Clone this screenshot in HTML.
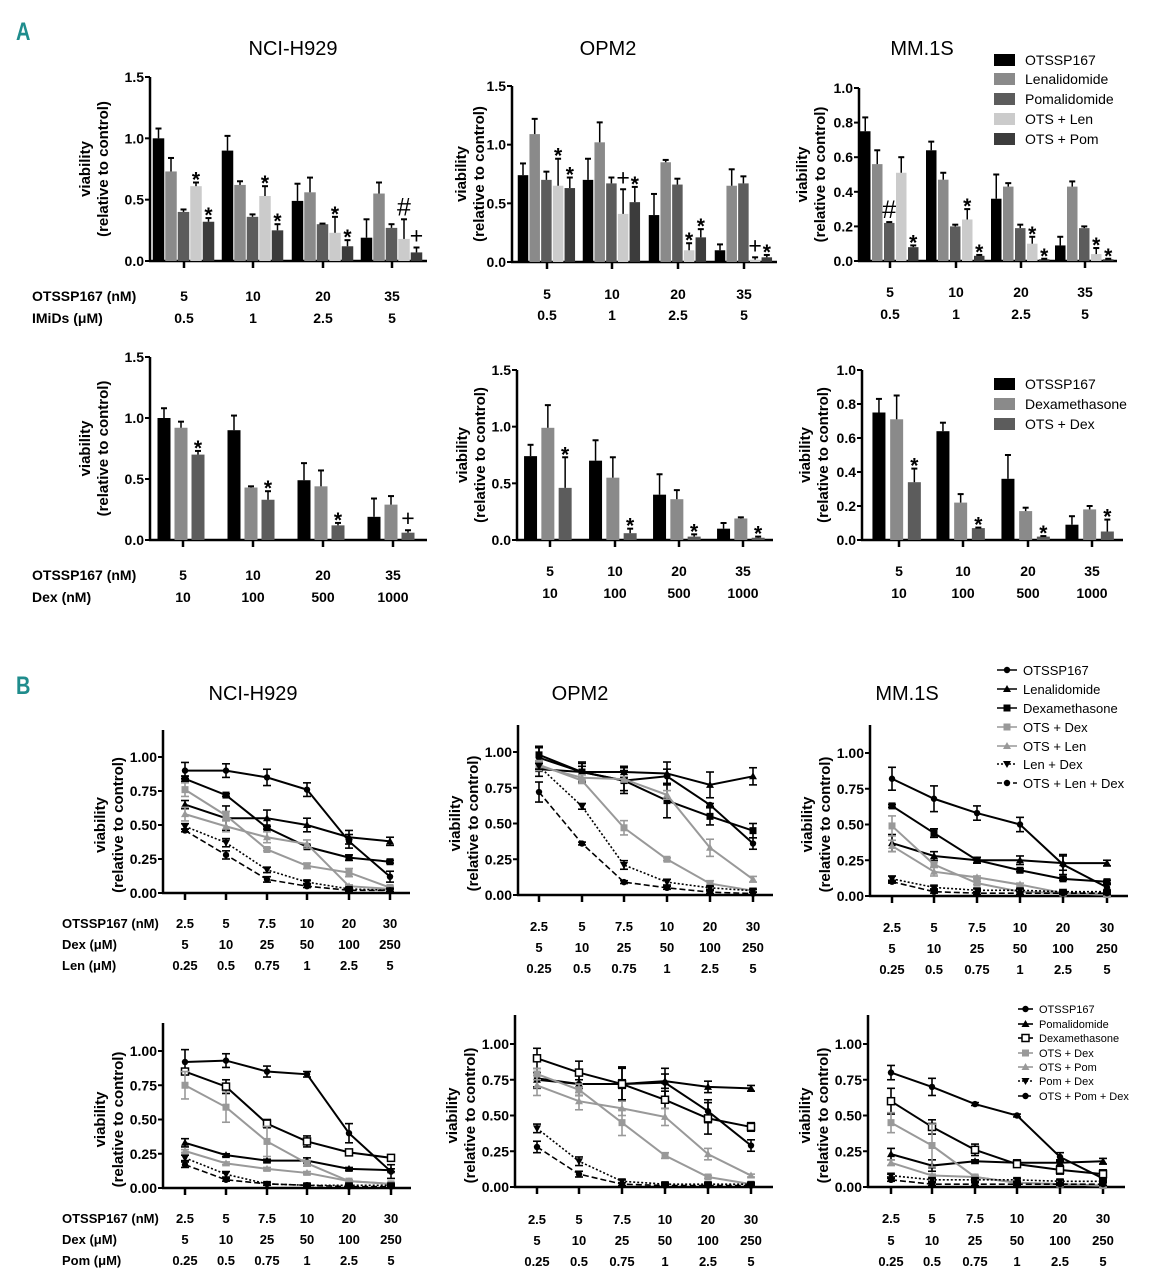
<!DOCTYPE html>
<html><head><meta charset="utf-8"><style>
html,body{margin:0;padding:0;background:#fff;}
svg{display:block;font-family:"Liberation Sans",Arial,sans-serif;}
</style></head><body>
<svg id="fig" width="1149" height="1280" viewBox="0 0 1149 1280" xmlns="http://www.w3.org/2000/svg">
<text x="16" y="40" fill="#1f8c8c" font-size="25" font-weight="bold" style="transform-box:fill-box;transform-origin:left;transform:scaleX(0.8)">A</text>
<text x="16" y="694" fill="#1f8c8c" font-size="25" font-weight="bold" style="transform-box:fill-box;transform-origin:left;transform:scaleX(0.8)">B</text>
<text x="293" y="55" font-size="20" text-anchor="middle">NCI-H929</text>
<text x="608" y="55" font-size="20" text-anchor="middle">OPM2</text>
<text x="922" y="55" font-size="20" text-anchor="middle">MM.1S</text>
<text x="253" y="700" font-size="20" text-anchor="middle">NCI-H929</text>
<text x="580" y="700" font-size="20" text-anchor="middle">OPM2</text>
<text x="907" y="700" font-size="20" text-anchor="middle">MM.1S</text>
</svg>
<script>
// ---------- Panel A data ----------
const aGroups = ["5","10","20","35"];
const aImids = ["0.5","1","2.5","5"];
const aDex = ["10","100","500","1000"];
const a1_ots=[1.00,0.90,0.49,0.19], a1_ots_e=[0.08,0.12,0.14,0.15];
const a1_len=[0.73,0.62,0.56,0.55], a1_len_e=[0.11,0.03,0.12,0.09];
const a1_pom=[0.40,0.36,0.30,0.27], a1_pom_e=[0.02,0.02,0.005,0.03];
const a1_ol=[0.61,0.53,0.23,0.18], a1_ol_e=[0.03,0.08,0.13,0.16];
const a1_op=[0.32,0.25,0.12,0.07], a1_op_e=[0.03,0.05,0.05,0.04];
const a1_ann_ol=["*","*","*","#"], a1_ann_op=["*","*","*","+"];
const a2_ots=[0.74,0.70,0.40,0.10], a2_ots_e=[0.10,0.18,0.18,0.05];
const a2_len=[1.09,1.02,0.85,0.65], a2_len_e=[0.13,0.17,0.02,0.14];
const a2_pom=[0.70,0.67,0.66,0.67], a2_pom_e=[0.07,0.05,0.05,0.06];
const a2_ol=[0.65,0.41,0.10,0.02], a2_ol_e=[0.23,0.21,0.06,0.02];
const a2_op=[0.63,0.51,0.21,0.04], a2_op_e=[0.09,0.13,0.07,0.02];
const a2_ann_ol=["*","+","*","+"], a2_ann_op=["*","*","*","*"];
const a3_ots=[0.75,0.64,0.36,0.09], a3_ots_e=[0.08,0.05,0.14,0.05];
const a3_len=[0.56,0.47,0.43,0.43], a3_len_e=[0.08,0.04,0.02,0.03];
const a3_pom=[0.22,0.20,0.19,0.19], a3_pom_e=[0.005,0.01,0.02,0.01];
const a3_ol=[0.51,0.24,0.10,0.04], a3_ol_e=[0.09,0.06,0.04,0.035];
const a3_op=[0.08,0.03,0.01,0.01], a3_op_e=[0.01,0.005,0.003,0.003];
const a3_ann_pom=["#","","",""], a3_ann_ol=["","*","*","*"], a3_ann_op=["*","*","*","*"];
const a4_ots=[1.00,0.90,0.49,0.19], a4_ots_e=[0.08,0.12,0.14,0.15];
const a4_dex=[0.92,0.43,0.44,0.29], a4_dex_e=[0.05,0.01,0.13,0.07];
const a4_od=[0.70,0.33,0.12,0.06], a4_od_e=[0.03,0.07,0.02,0.02];
const a4_ann=["*","*","*","+"];
const a5_ots=[0.74,0.70,0.40,0.10], a5_ots_e=[0.10,0.18,0.18,0.05];
const a5_dex=[0.99,0.55,0.36,0.19], a5_dex_e=[0.20,0.18,0.08,0.01];
const a5_od=[0.46,0.06,0.03,0.02], a5_od_e=[0.27,0.04,0.02,0.01];
const a5_ann=["*","*","*","*"];
const a6_ots=[0.75,0.64,0.36,0.09], a6_ots_e=[0.08,0.05,0.14,0.05];
const a6_dex=[0.71,0.22,0.17,0.18], a6_dex_e=[0.14,0.05,0.02,0.02];
const a6_od=[0.34,0.07,0.02,0.05], a6_od_e=[0.08,0.003,0.003,0.07];
const a6_ann=["*","*","*","*"];
// ---------- Panel B data ----------
const bOts=["2.5","5","7.5","10","20","30"];
const bDex=["5","10","25","50","100","250"];
const bImid=["0.25","0.5","0.75","1","2.5","5"];
const b1_ots=[0.90,0.90,0.85,0.76,0.38,0.12], b1_ots_e=[0.06,0.05,0.06,0.05,0.05,0.04];
const b1_len=[0.65,0.55,0.55,0.50,0.41,0.38], b1_len_e=[0.03,0.09,0.06,0.05,0.05,0.03];
const b1_dex=[0.84,0.72,0.48,0.34,0.26,0.23], b1_dex_e=[0.02,0.01,0.01,0.01,0.02,0.01];
const b1_od=[0.76,0.57,0.32,0.20,0.15,0.04], b1_od_e=[0.05,0.03,0.01,0.02,0.03,0.01];
const b1_ol=[0.58,0.49,0.41,0.36,0.05,0.03], b1_ol_e=[0.05,0.04,0.04,0.03,0.01,0.01];
const b1_ld=[0.49,0.37,0.17,0.08,0.03,0.02], b1_ld_e=[0.02,0.03,0.02,0.01,0.01,0.01];
const b1_old=[0.46,0.28,0.10,0.05,0.02,0.02], b1_old_e=[0.01,0.03,0.02,0.01,0.01,0.01];
const b2_ots=[0.96,0.86,0.80,0.83,0.63,0.36], b2_ots_e=[0.08,0.06,0.07,0.05,0.01,0.04];
const b2_len=[0.88,0.86,0.86,0.85,0.77,0.83], b2_len_e=[0.05,0.04,0.04,0.08,0.09,0.06];
const b2_dex=[0.98,0.86,0.80,0.66,0.55,0.45], b2_dex_e=[0.05,0.07,0.09,0.12,0.06,0.05];
const b2_od=[0.91,0.80,0.47,0.25,0.08,0.03], b2_od_e=[0.03,0.02,0.05,0.01,0.02,0.01];
const b2_ol=[0.90,0.82,0.81,0.70,0.33,0.11], b2_ol_e=[0.03,0.02,0.02,0.03,0.06,0.02];
const b2_ld=[0.90,0.62,0.21,0.09,0.05,0.03], b2_ld_e=[0.02,0.02,0.03,0.02,0.01,0.01];
const b2_old=[0.72,0.36,0.09,0.05,0.02,0.01], b2_old_e=[0.07,0.01,0.01,0.01,0.01,0.01];
const b3_ots=[0.82,0.68,0.58,0.50,0.22,0.06], b3_ots_e=[0.08,0.09,0.05,0.05,0.07,0.02];
const b3_len=[0.37,0.28,0.25,0.25,0.23,0.23], b3_len_e=[0.06,0.03,0.02,0.03,0.05,0.02];
const b3_dex=[0.63,0.44,0.25,0.18,0.12,0.10], b3_dex_e=[0.01,0.03,0.02,0.01,0.01,0.01];
const b3_od=[0.49,0.22,0.09,0.03,0.02,0.01], b3_od_e=[0.07,0.02,0.01,0.01,0.01,0.01];
const b3_ol=[0.35,0.17,0.13,0.08,0.02,0.01], b3_ol_e=[0.04,0.03,0.01,0.01,0.01,0.01];
const b3_ld=[0.12,0.06,0.04,0.04,0.03,0.03], b3_ld_e=[0.02,0.01,0.01,0.01,0.01,0.01];
const b3_old=[0.10,0.03,0.02,0.02,0.02,0.02], b3_old_e=[0.01,0.01,0.01,0.01,0.01,0.01];
const b4_ots=[0.92,0.93,0.85,0.83,0.40,0.12], b4_ots_e=[0.09,0.05,0.04,0.02,0.07,0.05];
const b4_pom=[0.33,0.24,0.20,0.20,0.14,0.13], b4_pom_e=[0.03,0.01,0.01,0.02,0.01,0.01];
const b4_dex=[0.85,0.74,0.47,0.34,0.26,0.22], b4_dex_e=[0.02,0.05,0.03,0.04,0.01,0.01];
const b4_od=[0.75,0.59,0.34,0.18,0.05,0.03], b4_od_e=[0.10,0.11,0.11,0.02,0.01,0.01];
const b4_op=[0.27,0.18,0.14,0.11,0.05,0.03], b4_op_e=[0.01,0.01,0.01,0.01,0.01,0.01];
const b4_pd=[0.22,0.10,0.03,0.02,0.02,0.02], b4_pd_e=[0.02,0.02,0.01,0.01,0.01,0.01];
const b4_opd=[0.17,0.06,0.03,0.02,0.01,0.01], b4_opd_e=[0.02,0.01,0.01,0.01,0.01,0.01];
const b5_ots=[0.76,0.72,0.72,0.73,0.53,0.29], b5_ots_e=[0.07,0.08,0.12,0.10,0.08,0.04];
const b5_pom=[0.75,0.72,0.72,0.74,0.70,0.69], b5_pom_e=[0.05,0.03,0.03,0.05,0.04,0.02];
const b5_dex=[0.90,0.80,0.72,0.61,0.48,0.42], b5_dex_e=[0.07,0.08,0.11,0.06,0.11,0.03];
const b5_od=[0.79,0.68,0.45,0.22,0.07,0.02], b5_od_e=[0.04,0.04,0.09,0.02,0.01,0.01];
const b5_op=[0.71,0.60,0.55,0.49,0.23,0.08], b5_op_e=[0.07,0.06,0.05,0.06,0.04,0.01];
const b5_pd=[0.41,0.18,0.04,0.02,0.02,0.02], b5_pd_e=[0.03,0.03,0.01,0.01,0.01,0.01];
const b5_opd=[0.28,0.09,0.02,0.01,0.01,0.01], b5_opd_e=[0.04,0.02,0.01,0.01,0.01,0.01];
const b6_ots=[0.80,0.70,0.58,0.50,0.21,0.06], b6_ots_e=[0.05,0.06,0.01,0.01,0.03,0.02];
const b6_pom=[0.23,0.15,0.18,0.17,0.17,0.18], b6_pom_e=[0.04,0.04,0.01,0.02,0.02,0.02];
const b6_dex=[0.60,0.42,0.26,0.16,0.12,0.09], b6_dex_e=[0.09,0.05,0.04,0.02,0.03,0.03];
const b6_od=[0.45,0.29,0.07,0.03,0.02,0.01], b6_od_e=[0.07,0.15,0.01,0.01,0.01,0.01];
const b6_op=[0.17,0.08,0.07,0.03,0.02,0.01], b6_op_e=[0.02,0.01,0.01,0.01,0.01,0.01];
const b6_pd=[0.08,0.05,0.05,0.05,0.04,0.04], b6_pd_e=[0.01,0.01,0.01,0.01,0.01,0.01];
const b6_opd=[0.05,0.02,0.02,0.02,0.02,0.02], b6_opd_e=[0.01,0.01,0.01,0.01,0.01,0.01];

const NS="http://www.w3.org/2000/svg";
const svg=document.getElementById('fig');
function mk(tag,attrs,parent){const e=document.createElementNS(NS,tag);for(const k in attrs)e.setAttribute(k,attrs[k]);(parent||svg).appendChild(e);return e;}
function txt(x,y,s,size,anchor,weight,parent){const t=mk('text',{x:x,y:y,'font-size':size,'text-anchor':anchor||'middle','font-weight':weight||'bold'},parent);t.textContent=s;return t;}

function axes(g,c){
  const sc=v=>c.y0-(v/c.max)*(c.y0-c.yTop);
  const yl=mk('line',{x1:c.ax,y1:c.axTop!=null?c.axTop:c.yTop,x2:c.ax,y2:c.y0+1,stroke:'#000','stroke-width':2.5},g);
  
  
  const xl=mk('line',{x1:c.ax-1,y1:c.y0,x2:c.xEnd,y2:c.y0,stroke:'#000','stroke-width':2.5},g);
  
  
  c.ticks.forEach(t=>{const y=sc(t);mk('line',{x1:c.ax-5,y1:y,x2:c.ax,y2:y,stroke:'#000','stroke-width':2},g);
    const tl=txt(c.ax-6,y+5,c.fmt(t),14,'end','bold',g);
    
    });
  c.gx.forEach(x=>mk('line',{x1:x,y1:c.y0,x2:x,y2:c.y0+7,stroke:'#000','stroke-width':2.5},g));
  const ty=(c.yTop+c.y0)/2;
  const yt=mk('text',{x:0,y:0,'font-size':15,'font-weight':'bold','text-anchor':'middle',transform:`translate(${c.ax-c.tOff-2},${ty}) rotate(-90)`},g);
  
  
  const t1=mk('tspan',{x:0,dy:0},yt);t1.textContent='viability';
  const t2=mk('tspan',{x:0,dy:18},yt);t2.textContent='(relative to control)';
  c.rows.forEach((r,i)=>{
    if(r.label){const l=txt(c.lx,r.y,r.label,c.lsize,'start','bold',g);
      
      }
    r.vals.forEach((v,j)=>{const l=txt(c.gx[j],r.y,v,c.lsize,'middle','bold',g);
      
      });
  });
  return sc;
}
function barChart(name,c){
  const g=mk('g',{});
  
  
  const sc=axes(g,c);
  const n=c.series.length;
  c.gx.forEach((gx,j)=>{
    const start=gx-(n*c.step)/2;
    c.series.forEach((s,i)=>{
      const x=start+i*c.step, v=s.vals[j], e=s.errs[j];
      const r=mk('rect',{x:x,y:sc(v),width:c.bw,height:c.y0-sc(v),fill:s.color},g);
      
      
      const cx=x+c.bw/2, te=sc(v+e);
      mk('line',{x1:cx,y1:sc(v),x2:cx,y2:te,stroke:'#000','stroke-width':1.5},g);
      mk('line',{x1:cx-3,y1:te,x2:cx+3,y2:te,stroke:'#000','stroke-width':2},g);
      if(s.ann&&s.ann[j]){const a=s.ann[j];
        const sz=a==='*'?21:(a==='#'?25:23);
        const t=txt(cx,a==='*'?te+4:te-4,a,sz,'middle',a==='*'?'bold':'normal',g);
        
        }
    });
  });
}
function marker(g,type,x,y,col){
  if(type==='circle')mk('circle',{cx:x,cy:y,r:3.2,fill:col},g);
  else if(type==='tri')mk('polygon',{points:`${x},${y-4} ${x-4},${y+3} ${x+4},${y+3}`,fill:col},g);
  else if(type==='itri')mk('polygon',{points:`${x},${y+4} ${x-4},${y-3} ${x+4},${y-3}`,fill:col},g);
  else if(type==='sq')mk('rect',{x:x-3.5,y:y-3.5,width:7,height:7,fill:col},g);
  else if(type==='osq')mk('rect',{x:x-3.5,y:y-3.5,width:7,height:7,fill:'#fff',stroke:col,'stroke-width':1.5},g);
}
function lineChart(name,c){
  const g=mk('g',{});
  
  
  const sc=axes(g,c);
  c.series.forEach(s=>{
    const pts=s.vals.map((v,j)=>`${c.gx[j]},${sc(v)}`).join(' ');
    const pl=mk('polyline',{points:pts,fill:'none',stroke:s.color,'stroke-width':s.dash?1.6:2,'stroke-dasharray':s.dash||'none'},g);
    
    
    s.vals.forEach((v,j)=>{const x=c.gx[j],e=s.errs[j];
      const y1=sc(v+e),y2=sc(Math.max(0,v-e));
      mk('line',{x1:x,y1:y1,x2:x,y2:y2,stroke:s.color,'stroke-width':1.6},g);
      mk('line',{x1:x-4,y1:y1,x2:x+4,y2:y1,stroke:s.color,'stroke-width':1.6},g);
      mk('line',{x1:x-4,y1:y2,x2:x+4,y2:y2,stroke:s.color,'stroke-width':1.6},g);
      marker(g,s.m,x,sc(v),s.color);});
  });
}
function legendBars(name,x,ys,items,size){
  const g=mk('g',{});
  
  
  items.forEach((it,i)=>{mk('rect',{x:x,y:ys[i]-6,width:21,height:12,fill:it[1]},g);
    const t=txt(x+31,ys[i]+5,it[0],size,'start','normal',g);
    
    });
}
function legendLines(name,x,w,ys,items,size){
  const g=mk('g',{});
  
  
  items.forEach((it,i)=>{const y=ys[i];
    mk('line',{x1:x,y1:y,x2:x+w,y2:y,stroke:it[1],'stroke-width':1.6,'stroke-dasharray':it[3]||'none'},g);
    marker(g,it[2],x+w/2,y,it[1]);
    const t=txt(x+w+6,y+size*0.38,it[0],size,'start','normal',g);
    
    });
}
const C={ots:'#000',len:'#8a8a8a',pom:'#5c5c5c',ol:'#cbcbcb',op:'#3c3c3c',dex:'#8a8a8a',od:'#5c5c5c'};
const fmt1=v=>v.toFixed(1), fmt2=v=>v.toFixed(2);
function aSeries5(o,l,p,ol,op,e,ann){return [
 {key:'otssp167',vals:o,errs:e[0],color:C.ots},{key:'lenalidomide',vals:l,errs:e[1],color:C.len,ann:ann[0]},
 {key:'pomalidomide',vals:p,errs:e[2],color:C.pom,ann:ann[1]},{key:'ots-len',vals:ol,errs:e[3],color:C.ol,ann:ann[2]},
 {key:'ots-pom',vals:op,errs:e[4],color:C.op,ann:ann[3]}];}
barChart('bar-chart-a-nci',{ax:150,y0:261,yTop:77,max:1.5,ticks:[0,0.5,1,1.5],fmt:fmt1,xEnd:427,gx:[184,253,323,392],bw:11.5,step:12.5,tOff:58,lx:32,lsize:14,
 rows:[{label:'OTSSP167 (nM)',y:301,vals:aGroups},{label:'IMiDs (\u03bcM)',y:323,vals:aImids}],
 series:aSeries5(a1_ots,a1_len,a1_pom,a1_ol,a1_op,[a1_ots_e,a1_len_e,a1_pom_e,a1_ol_e,a1_op_e],[null,null,a1_ann_ol,a1_ann_op])});
barChart('bar-chart-a-opm2',{ax:512,y0:262,yTop:86,max:1.5,ticks:[0,0.5,1,1.5],fmt:fmt1,xEnd:777,gx:[547,612,678,744],bw:10.5,step:11.7,tOff:44,lx:0,lsize:14,
 rows:[{y:299,vals:aGroups},{y:320,vals:aImids}],
 series:aSeries5(a2_ots,a2_len,a2_pom,a2_ol,a2_op,[a2_ots_e,a2_len_e,a2_pom_e,a2_ol_e,a2_op_e],[null,null,a2_ann_ol,a2_ann_op])});
barChart('bar-chart-a-mm1s',{ax:859,y0:261,yTop:88,max:1.0,ticks:[0,0.2,0.4,0.6,0.8,1.0],fmt:fmt1,xEnd:1117,gx:[890,956,1021,1085],bw:10.5,step:12,tOff:50,lx:0,lsize:14,
 rows:[{y:297,vals:aGroups},{y:319,vals:aImids}],
 series:aSeries5(a3_ots,a3_len,a3_pom,a3_ol,a3_op,[a3_ots_e,a3_len_e,a3_pom_e,a3_ol_e,a3_op_e],[null,a3_ann_pom,a3_ann_ol,a3_ann_op])});
function aSeries3(o,d,od,e,ann){return [{key:'otssp167',vals:o,errs:e[0],color:C.ots},{key:'dexamethasone',vals:d,errs:e[1],color:C.dex},{key:'ots-dex',vals:od,errs:e[2],color:C.od,ann:ann}];}
barChart('bar-chart-a-nci-dex',{ax:150,y0:540,yTop:357,max:1.5,ticks:[0,0.5,1,1.5],fmt:fmt1,xEnd:427,gx:[183,253,323,393],bw:13,step:17,tOff:58,lx:32,lsize:14,
 rows:[{label:'OTSSP167 (nM)',y:580,vals:aGroups},{label:'Dex (nM)',y:602,vals:aDex}],
 series:aSeries3(a4_ots,a4_dex,a4_od,[a4_ots_e,a4_dex_e,a4_od_e],a4_ann)});
barChart('bar-chart-a-opm2-dex',{ax:517,y0:540,yTop:370,max:1.5,ticks:[0,0.5,1,1.5],fmt:fmt1,xEnd:773,gx:[550,615,679,743],bw:13,step:17.3,tOff:48,lx:0,lsize:14,
 rows:[{y:576,vals:aGroups},{y:598,vals:aDex}],
 series:aSeries3(a5_ots,a5_dex,a5_od,[a5_ots_e,a5_dex_e,a5_od_e],a5_ann)});
barChart('bar-chart-a-mm1s-dex',{ax:862,y0:540,yTop:370,max:1.0,ticks:[0,0.2,0.4,0.6,0.8,1.0],fmt:fmt1,xEnd:1123,gx:[899,963,1028,1092],bw:13,step:17.7,tOff:50,lx:0,lsize:14,
 rows:[{y:576,vals:aGroups},{y:598,vals:aDex}],
 series:aSeries3(a6_ots,a6_dex,a6_od,[a6_ots_e,a6_dex_e,a6_od_e],a6_ann)});
legendBars('legend-a-imids',994,[60,79,99,119,139],[['OTSSP167',C.ots],['Lenalidomide',C.len],['Pomalidomide',C.pom],['OTS + Len',C.ol],['OTS + Pom',C.op]],14);
legendBars('legend-a-dex',994,[384,404,424],[['OTSSP167',C.ots],['Dexamethasone',C.dex],['OTS + Dex',C.od]],14);

const G='#999';
function bSeries(d,second,b){return [
 {key:'otssp167',vals:d[0],errs:d[1],color:'#000',m:'circle'},
 {key:second,vals:d[2],errs:d[3],color:'#000',m:'tri'},
 {key:'dexamethasone',vals:d[4],errs:d[5],color:'#000',m:b?'osq':'sq'},
 {key:'ots-dex',vals:d[6],errs:d[7],color:G,m:'sq'},
 {key:'ots-imid',vals:d[8],errs:d[9],color:G,m:'tri'},
 {key:'imid-dex',vals:d[10],errs:d[11],color:'#000',m:'itri',dash:'2,2'},
 {key:'ots-imid-dex',vals:d[12],errs:d[13],color:'#000',m:'circle',dash:'6,3'}];}
const bt=[0,0.25,0.5,0.75,1.0];
lineChart('line-chart-b-nci-len',{ax:163,y0:893,yTop:757,axTop:730,max:1,ticks:bt,fmt:fmt2,xEnd:410,gx:[185,226,267,307,349,390],tOff:56,lx:62,lsize:13,
 rows:[{label:'OTSSP167 (nM)',y:928,vals:bOts},{label:'Dex (\u03bcM)',y:949,vals:bDex},{label:'Len (\u03bcM)',y:970,vals:bImid}],
 series:bSeries([b1_ots,b1_ots_e,b1_len,b1_len_e,b1_dex,b1_dex_e,b1_od,b1_od_e,b1_ol,b1_ol_e,b1_ld,b1_ld_e,b1_old,b1_old_e],'lenalidomide',false)});
lineChart('line-chart-b-opm2-len',{ax:518,y0:895,yTop:752,axTop:725,max:1,ticks:bt,fmt:fmt2,xEnd:773,gx:[539,582,624,667,710,753],tOff:56,lx:0,lsize:13,
 rows:[{y:931,vals:bOts},{y:952,vals:bDex},{y:973,vals:bImid}],
 series:bSeries([b2_ots,b2_ots_e,b2_len,b2_len_e,b2_dex,b2_dex_e,b2_od,b2_od_e,b2_ol,b2_ol_e,b2_ld,b2_ld_e,b2_old,b2_old_e],'lenalidomide',false)});
lineChart('line-chart-b-mm1s-len',{ax:870,y0:896,yTop:753,axTop:725,max:1,ticks:bt,fmt:fmt2,xEnd:1128,gx:[892,934,977,1020,1063,1107],tOff:56,lx:0,lsize:13,
 rows:[{y:932,vals:bOts},{y:953,vals:bDex},{y:974,vals:bImid}],
 series:bSeries([b3_ots,b3_ots_e,b3_len,b3_len_e,b3_dex,b3_dex_e,b3_od,b3_od_e,b3_ol,b3_ol_e,b3_ld,b3_ld_e,b3_old,b3_old_e],'lenalidomide',false)});
lineChart('line-chart-b-nci-pom',{ax:163,y0:1188,yTop:1051,axTop:1023,max:1,ticks:bt,fmt:fmt2,xEnd:411,gx:[185,226,267,307,349,391],tOff:56,lx:62,lsize:13,
 rows:[{label:'OTSSP167 (nM)',y:1223,vals:bOts},{label:'Dex  (\u03bcM)',y:1244,vals:bDex},{label:'Pom (\u03bcM)',y:1265,vals:bImid}],
 series:bSeries([b4_ots,b4_ots_e,b4_pom,b4_pom_e,b4_dex,b4_dex_e,b4_od,b4_od_e,b4_op,b4_op_e,b4_pd,b4_pd_e,b4_opd,b4_opd_e],'pomalidomide',true)});
lineChart('line-chart-b-opm2-pom',{ax:515,y0:1187,yTop:1044,axTop:1015,max:1,ticks:bt,fmt:fmt2,xEnd:773,gx:[537,579,622,665,708,751],tOff:56,lx:0,lsize:13,
 rows:[{y:1224,vals:bOts},{y:1245,vals:bDex},{y:1266,vals:bImid}],
 series:bSeries([b5_ots,b5_ots_e,b5_pom,b5_pom_e,b5_dex,b5_dex_e,b5_od,b5_od_e,b5_op,b5_op_e,b5_pd,b5_pd_e,b5_opd,b5_opd_e],'pomalidomide',true)});
lineChart('line-chart-b-mm1s-pom',{ax:868,y0:1187,yTop:1044,axTop:1015,max:1,ticks:bt,fmt:fmt2,xEnd:1125,gx:[891,932,975,1017,1060,1103],tOff:56,lx:0,lsize:13,
 rows:[{y:1223,vals:bOts},{y:1245,vals:bDex},{y:1266,vals:bImid}],
 series:bSeries([b6_ots,b6_ots_e,b6_pom,b6_pom_e,b6_dex,b6_dex_e,b6_od,b6_od_e,b6_op,b6_op_e,b6_pd,b6_pd_e,b6_opd,b6_opd_e],'pomalidomide',true)});
legendLines('legend-b-len',997,20,[670,689,708,727,746,764,783],[['OTSSP167','#000','circle'],['Lenalidomide','#000','tri'],['Dexamethasone','#000','sq'],['OTS + Dex',G,'sq'],['OTS + Len',G,'tri'],['Len + Dex','#000','itri','2,2'],['OTS + Len + Dex','#000','circle','5,3']],13);
legendLines('legend-b-pom',1018,15,[1009,1024,1038,1053,1067,1081,1096],[['OTSSP167','#000','circle'],['Pomalidomide','#000','tri'],['Dexamethasone','#000','osq'],['OTS + Dex',G,'sq'],['OTS + Pom',G,'tri'],['Pom + Dex','#000','itri','2,2'],['OTS + Pom + Dex','#000','circle','5,3']],11);
</script>
</body></html>
